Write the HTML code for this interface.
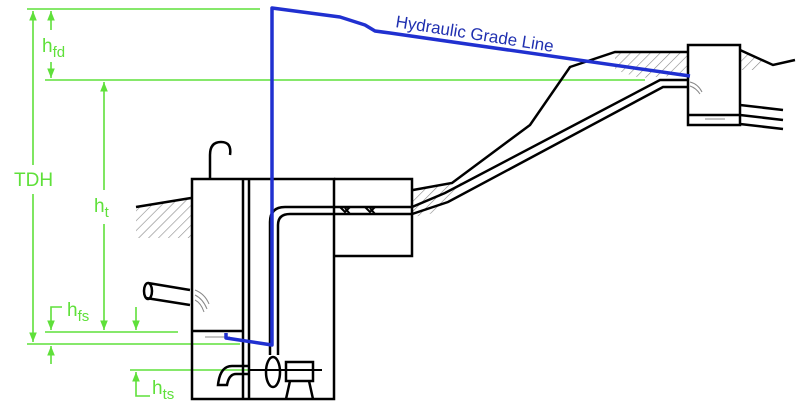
<!DOCTYPE html>
<html><head><style>html,body{margin:0;padding:0;background:#fff}svg{display:block}</style></head>
<body>
<svg width="800" height="408" viewBox="0 0 800 408" xmlns="http://www.w3.org/2000/svg" font-family="Liberation Sans, sans-serif">
<defs>
<pattern id="h" width="7" height="7" patternUnits="userSpaceOnUse" patternTransform="rotate(45)">
<line x1="0" y1="0" x2="0" y2="7" stroke="#888" stroke-width="1.2"/>
</pattern>
<marker id="a" viewBox="0 0 10 10" refX="10" refY="5" markerWidth="6" markerHeight="8" orient="auto-start-reverse"><path d="M0,1 L10,5 L0,9 z" fill="#5fe03a"/></marker>
</defs>
<polygon points="136,207 191,198 191,238 136,238" fill="url(#h)"/>
<polygon points="413,190 452,183 470,170 440,212 413,217" fill="url(#h)"/>
<polygon points="615,52 688,52 688,75 640,78 615,70" fill="url(#h)"/>
<polygon points="740,50 765,60 760,70 740,70" fill="url(#h)"/>

<g stroke="#5fe03a" stroke-width="1.6" fill="none">
<line x1="27" y1="9" x2="260" y2="9"/>
<line x1="45" y1="80" x2="645" y2="80"/>
<line x1="45" y1="332" x2="178" y2="332"/>
<line x1="27" y1="344" x2="240" y2="344"/>
<line x1="130" y1="370" x2="250" y2="370"/>
<line x1="33" y1="165" x2="33" y2="11" marker-end="url(#a)"/>
<line x1="33" y1="194" x2="33" y2="342" marker-end="url(#a)"/>
<line x1="51" y1="30" x2="51" y2="11" marker-end="url(#a)"/>
<line x1="51" y1="62" x2="51" y2="78" marker-end="url(#a)"/>
<line x1="104" y1="190" x2="104" y2="82" marker-end="url(#a)"/>
<line x1="104" y1="224" x2="104" y2="330" marker-end="url(#a)"/>
<polyline points="62,307 51,307 51,330" marker-end="url(#a)"/>
<line x1="136" y1="307" x2="136" y2="330" marker-end="url(#a)"/>
<line x1="51" y1="364" x2="51" y2="346" marker-end="url(#a)"/>
<polyline points="150,396 136,396 136,372" marker-end="url(#a)"/>
</g>
<g fill="#5fe03a" font-size="19">
<text x="14" y="186">TDH</text>
<text x="42" y="52">h<tspan font-size="15" dy="5">fd</tspan></text>
<text x="94" y="212">h<tspan font-size="15" dy="5">t</tspan></text>
<text x="67" y="316">h<tspan font-size="15" dy="5">fs</tspan></text>
<text x="152" y="394">h<tspan font-size="15" dy="5">ts</tspan></text>
</g>

<g stroke="#000" stroke-width="2.5" fill="none">
<rect x="192" y="179" width="142" height="220"/>
<line x1="243" y1="179" x2="243" y2="399"/>
<line x1="249" y1="179" x2="249" y2="399"/>
<line x1="192" y1="331" x2="243" y2="331"/>
<polyline points="334,179 412,179 412,256 334,256"/>
<path d="M210,179 V155 Q210,142 221,142 Q232,142 230,155"/>
<polyline points="136,207 191,198"/>
<polyline points="413,190 452,183 530,125 570,67 615,52 688,52"/>
<polyline points="740,50 773,65 795,60"/>
<rect x="688" y="45" width="52" height="80"/>
<line x1="688" y1="115" x2="740" y2="115"/>
<line x1="740" y1="105" x2="783" y2="110"/>
<line x1="740" y1="115" x2="783" y2="120"/>
<line x1="740" y1="124" x2="783" y2="129"/>
<path d="M270,355 V222 Q270,207 285,207 H412 L445,193 L660,80 H688"/>
<path d="M278,355 V225 Q278,214 290,214 H412 L448,202 L663,87 H688"/>
<path d="M340,207 l5,5 l5,-5 M350,214 l-5,-6 M365,207 l5,5 l5,-5 M375,214 l-5,-6" stroke-width="2"/>
<line x1="148" y1="283" x2="190" y2="290"/>
<line x1="146" y1="298" x2="190" y2="305"/>
<ellipse cx="148" cy="291" rx="4" ry="8"/>
<ellipse cx="273" cy="372" rx="7" ry="15" fill="#fff"/>
<rect x="286" y="362" width="27" height="19" fill="#fff"/>
<polyline points="290,381 286,399"/>
<polyline points="309,381 313,399"/>
<line x1="249" y1="370" x2="322" y2="370" stroke-width="2"/>
<path d="M250,366 H232 Q220,366 218,385 H227 Q229,374 236,374 H250"/>
</g>
<g stroke="#888" stroke-width="1" fill="none">
<path d="M195,295 q8,4 12,14 M195,290 q10,4 14,14 M195,300 q6,3 9,12"/>
<path d="M690,82 q8,2 12,10 M690,86 q6,2 10,8"/>
<line x1="205" y1="337" x2="230" y2="337"/>
<line x1="705" y1="119" x2="725" y2="119"/>
</g>
<g stroke="#2030d0" stroke-width="3.5" fill="none" stroke-linejoin="round">
<polyline points="226,333 226,338 272,345 272,8 340,17 365,25 375,31 390,33 690,76"/>
</g>
<text x="395" y="27" fill="#2030b0" font-size="17" transform="rotate(9 395 27)">Hydraulic Grade Line</text>
</svg>
</body></html>
